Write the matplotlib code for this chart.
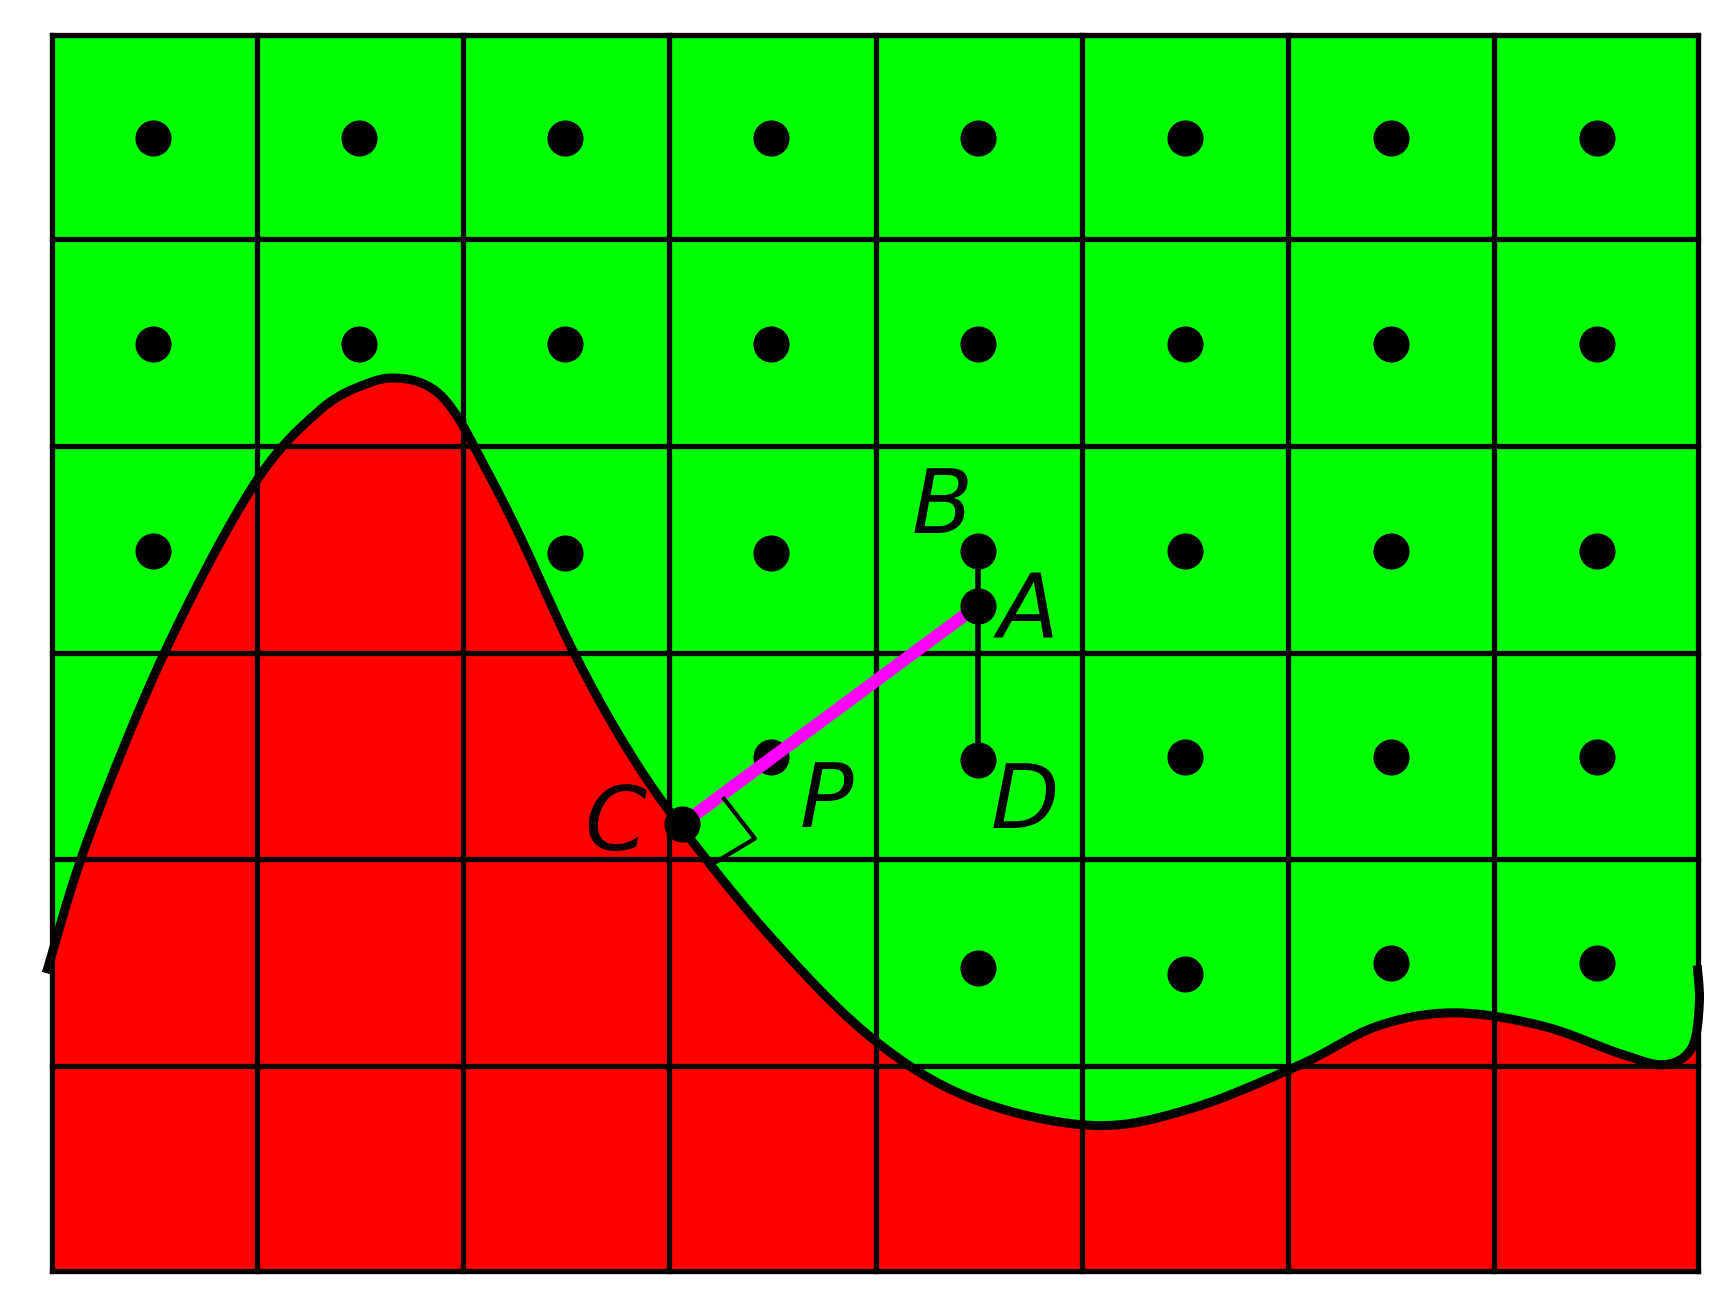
import matplotlib
matplotlib.use("Agg")
import matplotlib.pyplot as plt
import numpy as np

# Grid boundaries (image coordinates, y downwards)
col_edges = [47, 233, 420, 607, 795, 982, 1169, 1356, 1541]
row_edges = [32, 217, 404, 592, 779, 966, 1152]

# Control points of the interface curve
curve_x = [42, 80, 150, 230, 290, 335, 365, 392, 412, 432, 470, 520, 570, 620, 700, 790, 880,
           990, 1080, 1180, 1250, 1320, 1400, 1470, 1510, 1535, 1542, 1540]
curve_y = [882, 760, 590, 440, 372, 347, 343, 352, 373, 408, 482, 590, 680, 752, 850, 940, 995,
           1020, 1005, 965, 930, 918, 930, 955, 965, 950, 910, 875]

# Cell-centre dots in the green region
dot_x = [139, 326, 513, 700, 887, 1075, 1262, 1449,
         139, 326, 513, 700, 887, 1075, 1262, 1449,
         139, 513, 700, 887, 1075, 1262, 1449,
         700, 887, 1075, 1262, 1449,
         887, 1075, 1262, 1449]
dot_y = [125, 125, 125, 125, 125, 125, 125, 125,
         312, 312, 312, 312, 312, 312, 312, 312,
         499, 501, 501, 499, 499, 499, 499,
         686, 689, 686, 686, 686,
         877, 883, 873, 873]

# Labelled points
pt_A = (887, 549)
pt_B = (887, 499)
pt_D = (887, 689)
pt_C = (619, 747)
labels = {'A': (933, 556), 'B': (855, 460), 'C': (558, 748), 'D': (930, 728), 'P': (750, 727)}


def catmull_rom(xs, ys, n=30):
    px = np.array([xs[0]] + list(xs) + [xs[-1]], dtype=float)
    py = np.array([ys[0]] + list(ys) + [ys[-1]], dtype=float)
    t = np.linspace(0, 1, n, endpoint=False)
    out_x, out_y = [], []
    for i in range(1, len(px) - 2):
        for arr, out in ((px, out_x), (py, out_y)):
            p0, p1, p2, p3 = arr[i - 1], arr[i], arr[i + 1], arr[i + 2]
            out.extend(0.5 * (2 * p1 + (-p0 + p2) * t + (2 * p0 - 5 * p1 + 4 * p2 - p3) * t ** 2
                              + (-p0 + 3 * p1 - 3 * p2 + p3) * t ** 3))
    out_x.append(xs[-1])
    out_y.append(ys[-1])
    return np.array(out_x), np.array(out_y)


fig = plt.figure(figsize=(17.28, 13.03), dpi=100)
ax = fig.add_axes([0, 0, 1, 1])
ax.set_xlim(0, 1568)
ax.set_ylim(1181, 0)
ax.axis('off')

# green background of the grid
ax.fill_between([col_edges[0], col_edges[-1]], row_edges[0], row_edges[-1], color='#00ff00', zorder=1)

# red region below the curve
cx, cy = catmull_rom(curve_x, curve_y)
poly_x = np.concatenate([[47], cx[cx >= 47], [1541, 1541, 47]])
poly_y = np.concatenate([[np.interp(47, cx, cy)], cy[cx >= 47], [875, 1152, 1152]])
ax.fill(poly_x, poly_y, color='#ff0000', zorder=2)

# grid lines
for x in col_edges:
    ax.plot([x, x], [row_edges[0], row_edges[-1]], color='black', lw=3.8, zorder=3)
for y in row_edges:
    ax.plot([col_edges[0], col_edges[-1]], [y, y], color='black', lw=3.8, zorder=3)

# curve
ax.plot(cx, cy, color='black', lw=6.5, zorder=5, solid_capstyle='butt')

# dots
ax.plot(dot_x, dot_y, 'o', color='black', ms=25, zorder=6)

# segment B-D and C-A
ax.plot([pt_B[0], pt_D[0]], [pt_B[1], pt_D[1]], color='black', lw=4, zorder=6)
ax.plot([pt_C[0], pt_A[0]], [pt_C[1], pt_A[1]], color='#ff00ff', lw=9, zorder=7, solid_capstyle='butt')
ax.plot([pt_A[0], pt_C[0]], [pt_A[1], pt_C[1]], 'o', color='black', ms=25, zorder=8)

# right-angle marker
ax.plot([657, 685, 650], [724, 760, 781], color='black', lw=3, zorder=7)

for name, (lx, ly) in labels.items():
    ax.text(lx, ly, name, fontsize=64, fontstyle='italic', ha='center', va='center', zorder=9)

fig.savefig('out.png', dpi=100)
